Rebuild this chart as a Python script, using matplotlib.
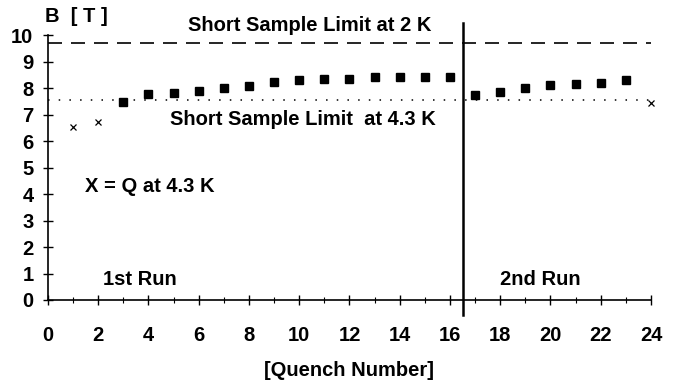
import matplotlib
matplotlib.use("Agg")
import matplotlib.pyplot as plt
from matplotlib.ticker import MultipleLocator

# Quench history
run1_q = [3, 4, 5, 6, 7, 8, 9, 10, 11, 12, 13, 14, 15, 16]
run1_b = [7.48, 7.77, 7.80, 7.90, 7.99, 8.08, 8.23, 8.30, 8.34, 8.34, 8.40, 8.40, 8.41, 8.41]
run2_q = [17, 18, 19, 20, 21, 22, 23]
run2_b = [7.74, 7.84, 7.99, 8.11, 8.15, 8.18, 8.30]
warm_q = [1, 2, 24]          # quenches at 4.3 K
warm_b = [6.54, 6.72, 7.42]

limit_2k = 9.71
limit_43k = 7.55
run_split = 16.5

xticks = list(range(0, 25, 2))
yticks = list(range(0, 11))

plt.rcParams['font.family'] = ['Liberation Sans', 'DejaVu Sans']
plt.rcParams['font.weight'] = 'bold'

fig = plt.figure(figsize=(6.75, 3.85), dpi=100)
ax = fig.add_axes([0.0711, 0.2208, 0.8933, 0.688])

ax.set_xlim(0, 24)
ax.set_ylim(0, 10)

ax.axhline(limit_2k, color='black', lw=1.2, ls=(0, (8.4, 5.4)), clip_on=False)
ax.axhline(limit_43k, color='black', lw=1.1, ls=(0, (1, 6)))
ax.plot([run_split, run_split], [-0.57, 10.45], color='black', lw=1.8,
        clip_on=False, zorder=3)

ax.plot(run1_q, run1_b, 's', color='black', ms=5.8, clip_on=False)
ax.plot(run2_q, run2_b, 's', color='black', ms=5.8, clip_on=False)
ax.plot(warm_q, warm_b, 'x', color='black', ms=4.5, mew=0.9, clip_on=False)

for s in ('top', 'right'):
    ax.spines[s].set_visible(False)
for s in ('left', 'bottom'):
    ax.spines[s].set_linewidth(1.2)

ax.set_xticks(xticks)
ax.set_yticks(yticks)
ax.xaxis.set_minor_locator(MultipleLocator(1))
ax.tick_params(axis='both', which='major', direction='inout', length=7, width=1,
               labelsize=14.5)
ax.tick_params(axis='x', which='major', pad=15)
ax.tick_params(axis='y', which='major', pad=7)
ax.tick_params(axis='x', which='minor', direction='inout', length=5, width=0.8)
for lbl in ax.get_xticklabels() + ax.get_yticklabels():
    lbl.set_fontweight('bold')

ax.set_xlabel('[Quench Number]', fontsize=14.5, fontweight='bold', labelpad=12)

fs = 14.5
ax.text(-0.12, 10.5, 'B  [ T ]', fontsize=fs, fontweight='bold', va='baseline', ha='left')
ax.text(5.57, 10.15, 'Short Sample Limit at 2 K', fontsize=fs, fontweight='bold',
        va='baseline', ha='left')
ax.text(4.86, 6.6, 'Short Sample Limit  at 4.3 K', fontsize=fs, fontweight='bold',
        va='baseline', ha='left')
ax.text(1.47, 4.08, 'X = Q at 4.3 K', fontsize=fs, fontweight='bold', va='baseline', ha='left')
ax.text(2.19, 0.57, '1st Run', fontsize=fs, fontweight='bold', va='baseline', ha='left')
ax.text(18.0, 0.57, '2nd Run', fontsize=fs, fontweight='bold', va='baseline', ha='left')

fig.savefig('out.png', dpi=100)
